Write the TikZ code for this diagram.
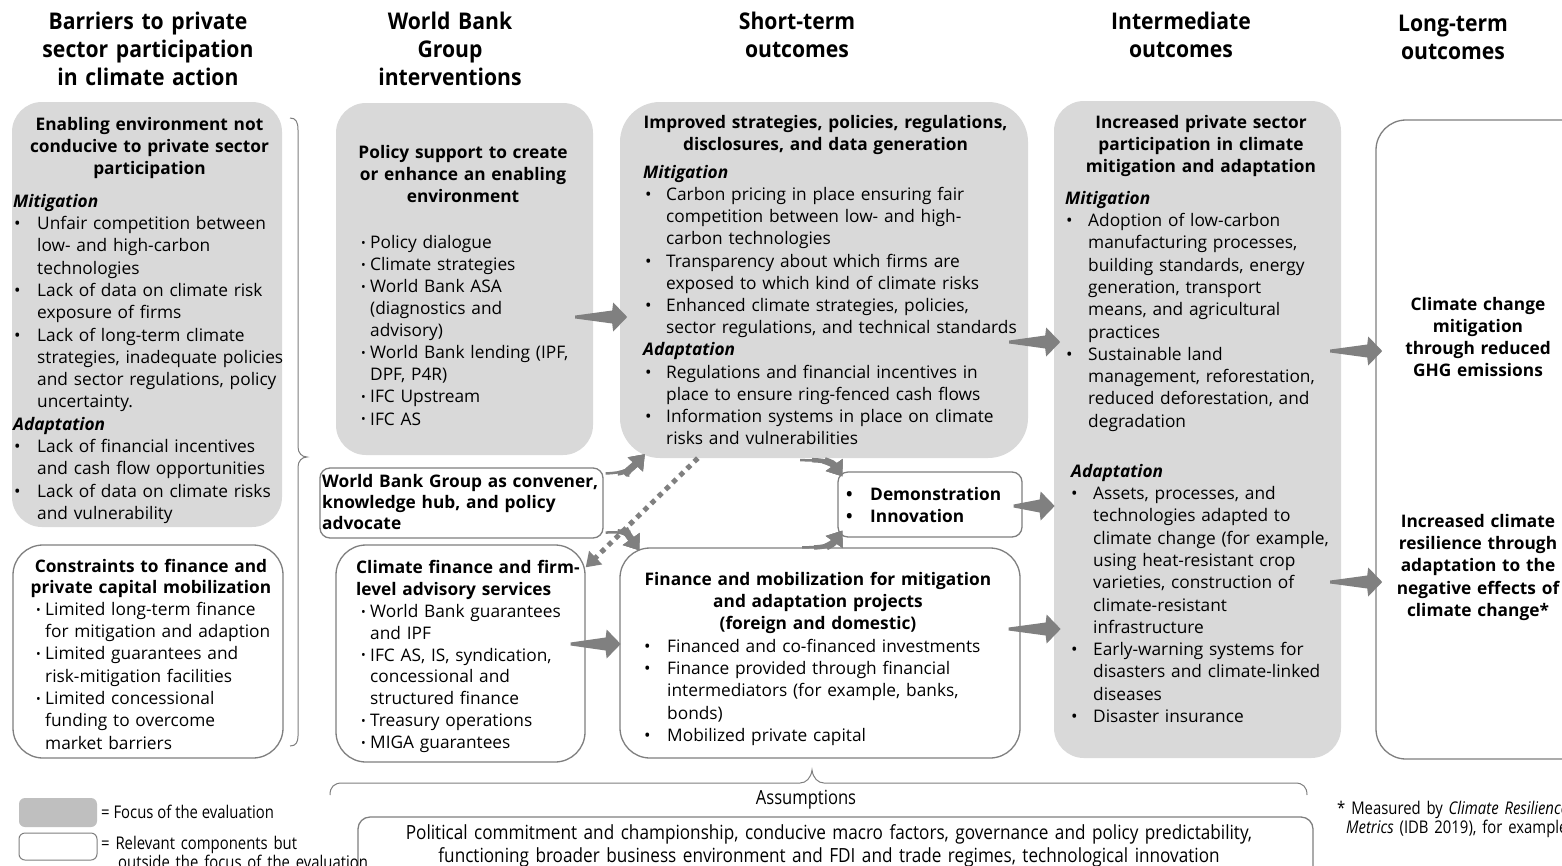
\documentclass[tikz,border=0pt]{standalone}
\usepackage{fontspec}
\setmainfont{Open Sans}
\newfontfamily\condf[FakeStretch=0.85]{Open Sans}
\newfontfamily\asf[FakeStretch=0.88]{Open Sans}
\newfontfamily\hdrf[FakeStretch=0.92]{Open Sans}
\usetikzlibrary{arrows.meta,calc}
\definecolor{boxgrey}{HTML}{D9D9D9}
\definecolor{agrey}{HTML}{808080}
\definecolor{lgrey}{HTML}{7F7F7F}
\definecolor{leggrey}{HTML}{BFBFBF}
\newcommand\bodyf{\fontsize{17.3}{22.3}\selectfont}
\newcommand\strt{\rule{0pt}{15pt}}
\newcommand\hstrt{\rule{0pt}{19.5pt}}
\newcommand\itm[3]{\hspace*{#1pt}\makebox[\dimexpr#2pt-#1pt\relax][l]{\textbullet}#3}
\newcommand\sitm[3]{\hspace*{#1pt}\makebox[\dimexpr#2pt-#1pt\relax][l]{\raisebox{1.2pt}{\scalebox{0.72}{\textbullet}}}#3}
\newcommand\cnt[2]{\hspace*{#1pt}#2}
\newcommand\mh[1]{\textbf{\textit{#1}}}
\newcommand\harrow[2]{\fill[agrey] let \p1=#1 in (\x1,\y1+1.5) -- (\x1+#2-15,\y1+6.5) -- (\x1+#2-14,\y1+14.5) -- (\x1+#2,\y1) -- (\x1+#2-14,\y1-14.5) -- (\x1+#2-15,\y1-6.5) -- (\x1,\y1-1.5) -- cycle;}
% tapered curved arrow: #1 start, #2 first control (relative), #3 second control (relative to end), #4 end
\newcommand\carr[4]{%
 \draw[carrow, line width=2.5pt] #1 .. controls #2 and #3 .. #4;
 \draw[carrow, line width=4.5pt, shorten <=12pt] #1 .. controls #2 and #3 .. #4;
 \draw[carrow, line width=7pt, shorten <=24pt] #1 .. controls #2 and #3 .. #4;}
\tikzset{
 gbox/.style={fill=boxgrey, rounded corners=30pt, inner sep=0pt},
 wbox/.style={draw=lgrey, line width=1.3pt, fill=white, rounded corners=30pt, inner sep=0pt},
 ttl/.style={anchor=north, align=center, text width=440pt, inner sep=0pt, font=\bodyf\bfseries},
 tll/.style={anchor=north west, align=left, text width=440pt, inner sep=0pt, font=\bodyf\bfseries},
 bod/.style={anchor=north west, align=left, text width=440pt, inner sep=0pt, font=\bodyf},
 hdr/.style={anchor=north, align=center, text width=300pt, inner sep=0pt, font=\hdrf\bfseries\fontsize{23}{28}\selectfont},
 carrow/.style={draw=agrey, -{Triangle[width=20pt,length=14pt]}},
 darrow/.style={draw=agrey, line width=5pt, dash pattern=on 5pt off 5pt, -{Triangle[width=18pt,length=14pt]}},
 brace/.style={draw=lgrey, line width=1pt},
 cond/.style={inner sep=0pt, font=\condf\fontsize{17.5}{16.5}\selectfont},
}
\begin{document}
\begin{tikzpicture}[x=1pt,y=-1pt]
\useasboundingbox (0,0) rectangle (1562,865);
\fill[white] (0,0) rectangle (1562,865);
\clip (0,0) rectangle (1562,865);

% column headers
\node[hdr] (h1) at (148,10) {\hstrt Barriers to private\\sector participation\\in climate action};
\node[hdr] (h2) at (450,10) {\hstrt World Bank\\Group\\interventions};
\node[hdr] (h3) at (797,10) {\hstrt Short-term\\outcomes};
\node[hdr] (h4) at (1181,10) {\hstrt Intermediate\\outcomes};
\node[hdr] (h5) at (1453,12) {\hstrt Long-term\\outcomes};

% boxes
\node[gbox, minimum width=270pt, minimum height=425pt] (en) at (147,314.5) {};
\node[wbox, minimum width=270pt, minimum height=213pt] (con) at (148,651.5) {};
\node[gbox, minimum width=257pt, minimum height=352pt] (pol) at (464.5,279) {};
\node[wbox, rounded corners=10pt, minimum width=283pt, minimum height=70pt] (conv) at (461.5,503) {};
\node[wbox, minimum width=249pt, minimum height=217pt] (cf) at (460.5,653.5) {};
\node[gbox, rounded corners=40pt, minimum width=408pt, minimum height=356pt] (imp) at (824,280) {};
\node[wbox, rounded corners=10pt, minimum width=184pt, minimum height=65pt] (demo) at (930,504.5) {};
\node[wbox, minimum width=400pt, minimum height=210pt] (fin) at (820,653) {};
\node[gbox, minimum width=287pt, minimum height=657pt] (inc) at (1197.5,429.5) {};
\node[wbox, minimum width=244pt, minimum height=639pt] (lt) at (1498,439.5) {};
\node[wbox, rounded corners=12pt, minimum width=955pt, minimum height=73pt] (as) at (835.5,853.5) {};
\node[fill=leggrey, rounded corners=6pt, inner sep=0pt, minimum width=78pt, minimum height=29pt] (lg1) at (58,812.5) {};
\node[wbox, rounded corners=6pt, line width=1pt, minimum width=78pt, minimum height=27pt] (lg2) at (58,846.5) {};

% texts: barriers
\node[ttl] (ent) at (149.5,115) {\strt Enabling environment not\\conducive to private sector\\participation};
\node[bod] (enb) at (13,192) {\strt\mh{Mitigation}\\
\itm{1}{24}{Unfair competition between}\\
\cnt{24}{low- and high-carbon}\\
\cnt{24}{technologies}\\
\itm{1}{24}{Lack of data on climate risk}\\
\cnt{24}{exposure of firms}\\
\itm{1}{24}{Lack of long-term climate}\\
\cnt{24}{strategies, inadequate policies}\\
\cnt{24}{and sector regulations, policy}\\
\cnt{24}{uncertainty.}\\
\mh{Adaptation}\\
\itm{1}{24}{Lack of financial incentives}\\
\cnt{24}{and cash flow opportunities}\\
\itm{1}{24}{Lack of data on climate risks}\\
\cnt{24}{and vulnerability}};
\node[ttl, font=\bodyf\bfseries\fontsize{17.3}{21.3}\selectfont] (cont) at (151,557) {\strt Constraints to finance and\\private capital mobilization};
\node[bod] (conb) at (20,600) {\strt\sitm{16}{25}{Limited long-term finance}\\
\cnt{25}{for mitigation and adaption}\\
\sitm{16}{25}{Limited guarantees and}\\
\cnt{25}{risk-mitigation facilities}\\
\sitm{16}{25}{Limited concessional}\\
\cnt{25}{funding to overcome}\\
\cnt{25}{market barriers}};

% interventions
\node[ttl] (polt) at (463,143) {\strt Policy support to create\\or enhance an enabling\\environment};
\node[bod, font=\bodyf\fontsize{17.3}{22.1}\selectfont] (polb) at (361,233) {\strt\sitm{0}{9}{Policy dialogue}\\
\sitm{0}{9}{Climate strategies}\\
\sitm{0}{9}{World Bank ASA}\\
\cnt{9}{(diagnostics and}\\
\cnt{9}{advisory)}\\
\sitm{0}{9}{World Bank lending (IPF,}\\
\cnt{9}{DPF, P4R)}\\
\sitm{0}{9}{IFC Upstream}\\
\sitm{0}{9}{IFC AS}};
\node[tll, font=\bodyf\bfseries\fontsize{17.3}{21.2}\selectfont] (convt) at (322,472) {\strt World Bank Group as convener,\\knowledge hub, and policy\\advocate};
\node[tll] (cft) at (356,558) {\strt Climate finance and firm-\\level advisory services};
\node[bod, font=\bodyf\fontsize{17.3}{21.9}\selectfont] (cfb) at (356,602) {\strt\sitm{5}{14}{World Bank guarantees}\\
\cnt{14}{and IPF}\\
\sitm{5}{14}{IFC AS, IS, syndication,}\\
\cnt{14}{concessional and}\\
\cnt{14}{structured finance}\\
\sitm{5}{14}{Treasury operations}\\
\sitm{5}{14}{MIGA guarantees}};

% short-term
\node[ttl] (impt) at (825.5,113) {\strt Improved strategies, policies, regulations,\\disclosures, and data generation};
\node[bod, font=\bodyf\fontsize{17.3}{22.2}\selectfont] (impb) at (643,163) {\strt\mh{Mitigation}\\
\itm{2}{23}{Carbon pricing in place ensuring fair}\\
\cnt{23}{competition between low- and high-}\\
\cnt{23}{carbon technologies}\\
\itm{2}{23}{Transparency about which firms are}\\
\cnt{23}{exposed to which kind of climate risks}\\
\itm{2}{23}{Enhanced climate strategies, policies,}\\
\cnt{23}{sector regulations, and technical standards}\\
\mh{Adaptation}\\
\itm{2}{23}{Regulations and financial incentives in}\\
\cnt{23}{place to ensure ring-fenced cash flows}\\
\itm{2}{23}{Information systems in place on climate}\\
\cnt{23}{risks and vulnerabilities}};
\node[tll, font=\bodyf\bfseries\fontsize{17.3}{22}\selectfont] (demot) at (846,485) {\strt\itm{0}{24}{Demonstration}\\\itm{0}{24}{Innovation}};
\node[ttl] (fint) at (818,570) {\strt Finance and mobilization for mitigation\\and adaptation projects\\(foreign and domestic)};
\node[bod] (finb) at (644,637) {\strt\itm{0}{23}{Financed and co-financed investments}\\
\itm{0}{23}{Finance provided through financial}\\
\cnt{23}{intermediators (for example, banks,}\\
\cnt{23}{bonds)}\\
\itm{0}{23}{Mobilized private capital}};

% intermediate
\node[ttl] (inct) at (1201,113) {\strt Increased private sector\\participation in climate\\mitigation and adaptation};
\node[bod] (incm) at (1065,189) {\strt\mh{Mitigation}\\
\itm{1}{23}{Adoption of low-carbon}\\
\cnt{23}{manufacturing processes,}\\
\cnt{23}{building standards, energy}\\
\cnt{23}{generation, transport}\\
\cnt{23}{means, and agricultural}\\
\cnt{23}{practices}\\
\itm{1}{23}{Sustainable land}\\
\cnt{23}{management, reforestation,}\\
\cnt{23}{reduced deforestation, and}\\
\cnt{23}{degradation}};
\node[bod] (inca) at (1071,462) {\strt\mh{Adaptation}\\
\itm{0}{22}{Assets, processes, and}\\
\cnt{22}{technologies adapted to}\\
\cnt{22}{climate change (for example,}\\
\cnt{22}{using heat-resistant crop}\\
\cnt{22}{varieties, construction of}\\
\cnt{22}{climate-resistant}\\
\cnt{22}{infrastructure}\\
\itm{0}{22}{Early-warning systems for}\\
\cnt{22}{disasters and climate-linked}\\
\cnt{22}{diseases}\\
\itm{0}{22}{Disaster insurance}};

% long-term
\node[ttl, font=\bodyf\bfseries\fontsize{17.3}{22}\selectfont] (lt1) at (1478,295) {\strt Climate change\\mitigation\\through reduced\\GHG emissions};
\node[ttl] (lt2) at (1478,512) {\strt Increased climate\\resilience through\\adaptation to the\\negative effects of\\climate change*};

% braces
\draw[brace] (290,118) .. controls (296,118) and (298,122) .. (298,130) -- (298,447) .. controls (298,453) and (302,457) .. (307,457) .. controls (302,457) and (298,461) .. (298,467) -- (298,736) .. controls (298,742) and (296,746) .. (290,746);
\draw[brace] (330,795) .. controls (330,787) and (334,783) .. (342,783) -- (800,783) .. controls (806,783) and (811,778) .. (812,770) .. controls (813,778) and (818,783) .. (824,783) -- (1295,783) .. controls (1303,783) and (1307,787) .. (1307,795);

% straight arrows
\harrow{($(pol.east)+(-18,38)$)}{52}
\harrow{($(imp.east)+(-19,62)$)}{51}
\harrow{($(inc.east)+(-11,-78.5)$)}{52}
\harrow{($(inc.east)+(-11,152.5)$)}{52}
\harrow{($(demo.east)+(-9,1.5)$)}{41}
\harrow{($(fin.east)+(-12,-24)$)}{52}
\harrow{($(cf.east)+(-15,-9.5)$)}{50}

% curved arrows
\carr{([xshift=2pt,yshift=-6pt]conv.north east)}{+(17,0)}{+(-13,14)}{([xshift=25pt,yshift=4pt]imp.south west)}
\carr{([xshift=2pt,yshift=6pt]conv.south east)}{+(18,-2)}{+(-10,-14)}{([xshift=20pt,yshift=-3pt]fin.north west)}
\carr{([xshift=-24pt,yshift=-2pt]imp.south)}{+(22,0)}{+(-10,-14)}{([xshift=5pt,yshift=-5pt]demo.north west)}
\carr{([xshift=-18pt]fin.north)}{+(22,0)}{+(-10,14)}{([xshift=5pt,yshift=7pt]demo.south west)}
\draw[darrow] ([xshift=78pt]imp.south west) -- ([yshift=-23pt]cf.north east);

% assumptions
\node[inner sep=0pt, font=\condf\fontsize{19.5}{23}\selectfont] (asl) at (806,800) {Assumptions};
\node[anchor=north, align=center, text width=950pt, inner sep=0pt, font=\asf\fontsize{19.5}{23}\selectfont] (ast) at (829,822.5) {\rule{0pt}{17pt}Political commitment and championship, conducive macro factors, governance and policy predictability,\\functioning broader business environment and FDI and trade regimes, technological innovation};

% legend
\node[cond, anchor=west] (lgt1) at (101,812) {= Focus of the evaluation};
\node[cond, anchor=north west, align=left, text width=300pt] (lgt2) at (101,836) {\rule{0pt}{13pt}= Relevant components but\\\hspace*{17pt}outside the focus of the evaluation};
\node[cond, anchor=north west, align=left, text width=300pt] (fn) at (1337,801) {\rule{0pt}{13pt}* Measured by \textit{Climate Resilience}\\\hspace*{9pt}\textit{Metrics} (IDB 2019), for example.};
\end{tikzpicture}
\end{document}
